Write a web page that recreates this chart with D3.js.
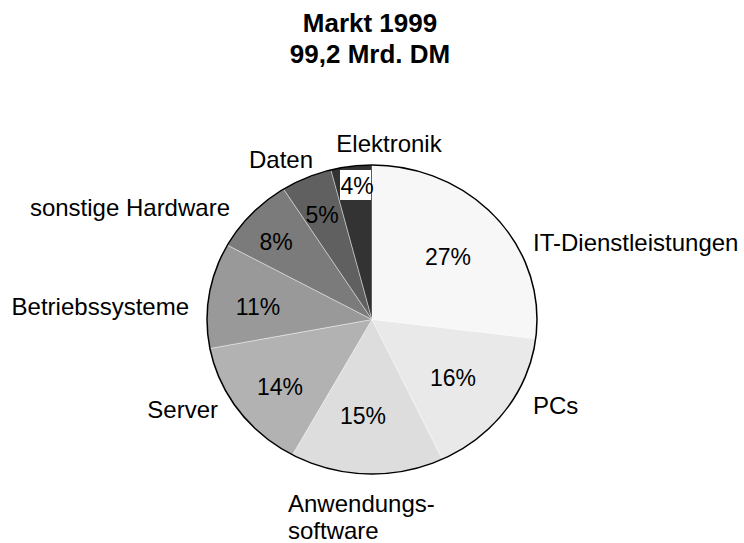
<!DOCTYPE html>
<html>
<head>
<meta charset="utf-8">
<script src="https://cdn.jsdelivr.net/npm/d3@7"></script>
<style>
  body { margin: 0; background: #fff; }
  svg { display: block; font-family: "Liberation Sans", Arial, sans-serif; }
</style>
</head>
<body>
<svg id="chart"></svg>
<script>
const categories = ['IT-Dienstleistungen', 'PCs', 'Anwendungs-\nsoftware', 'Server', 'Betriebssysteme', 'sonstige Hardware', 'Daten', 'Elektronik']
const shares = [27, 16, 15, 14, 11, 8, 5, 4]
const titleLines = ['Markt 1999', '99,2 Mrd. DM']

const WIDTH = 744
const HEIGHT = 543
const CX = 372
const CY = 319.5
const RADIUS = 165
const Y_SQUASH = 0.936

const fills = ['#f7f7f7', '#e9e9e9', '#dddddd', '#b2b2b2', '#999999', '#7b7b7b', '#606060', '#333333']

// label placement relative to pie centre: [dx, dy(baseline), anchor]
const nameLayout = [
  [161, -68.5, 'start'],
  [161, 94.5, 'start'],
  [-84, 192.5, 'start'],
  [-154, 98.5, 'end'],
  [-183, -4.5, 'end'],
  [-142, -103.5, 'end'],
  [-59, -151.8, 'end'],
  [17, -167.8, 'middle']
]
const pctLayout = [
  [76, -55], [81, 66.5], [-9, 104.5], [-92, 75.5],
  [-114, -4.5], [-96, -69.5], [-50, -97], [-15, -125.5]
]

const svg = d3.select('#chart')
  .attr('width', WIDTH)
  .attr('height', HEIGHT)

svg.append('g')
  .selectAll('text')
  .data(titleLines)
  .join('text')
  .attr('x', 370)
  .attr('y', (d, i) => 31.5 + i * 31.6)
  .attr('text-anchor', 'middle')
  .attr('font-size', 26)
  .attr('font-weight', 'bold')
  .text(d => d)

const pie = d3.pie().sort(null).value(d => d)
const arcs = pie(shares)
const arc = d3.arc().innerRadius(0).outerRadius(RADIUS)

const pieG = svg.append('g')
  .attr('transform', `translate(${CX},${CY}) scale(1,${Y_SQUASH})`)

pieG.selectAll('path')
  .data(arcs)
  .join('path')
  .attr('d', arc)
  .attr('fill', (d, i) => fills[i])
  .attr('stroke', '#ffffff')
  .attr('stroke-opacity', 0.5)
  .attr('stroke-width', 0.8)
  .attr('vector-effect', 'non-scaling-stroke')

pieG.append('circle')
  .attr('r', RADIUS)
  .attr('fill', 'none')
  .attr('stroke', '#000')
  .attr('stroke-width', 1.5)
  .attr('vector-effect', 'non-scaling-stroke')

const labelG = svg.append('g').attr('transform', `translate(${CX},${CY})`)

// white box behind the small Elektronik percentage
const last = shares.length - 1
labelG.append('rect')
  .attr('x', pctLayout[last][0] - 17)
  .attr('y', pctLayout[last][1] - 24)
  .attr('width', 31)
  .attr('height', 30)
  .attr('fill', '#fff')

labelG.selectAll('text.pct')
  .data(shares)
  .join('text')
  .attr('class', 'pct')
  .attr('x', (d, i) => pctLayout[i][0])
  .attr('y', (d, i) => pctLayout[i][1])
  .attr('text-anchor', 'middle')
  .attr('font-size', 23)
  .text(d => d + '%')

labelG.selectAll('text.name')
  .data(categories)
  .join('text')
  .attr('class', 'name')
  .attr('x', (d, i) => nameLayout[i][0])
  .attr('y', (d, i) => nameLayout[i][1])
  .attr('text-anchor', (d, i) => nameLayout[i][2])
  .attr('font-size', 24)
  .each(function(d, i) {
    const lines = d.split('\n')
    d3.select(this).selectAll('tspan')
      .data(lines)
      .join('tspan')
      .attr('x', nameLayout[i][0])
      .attr('dy', (l, j) => j === 0 ? 0 : 26.5)
      .text(l => l)
  })
</script>
</body>
</html>
